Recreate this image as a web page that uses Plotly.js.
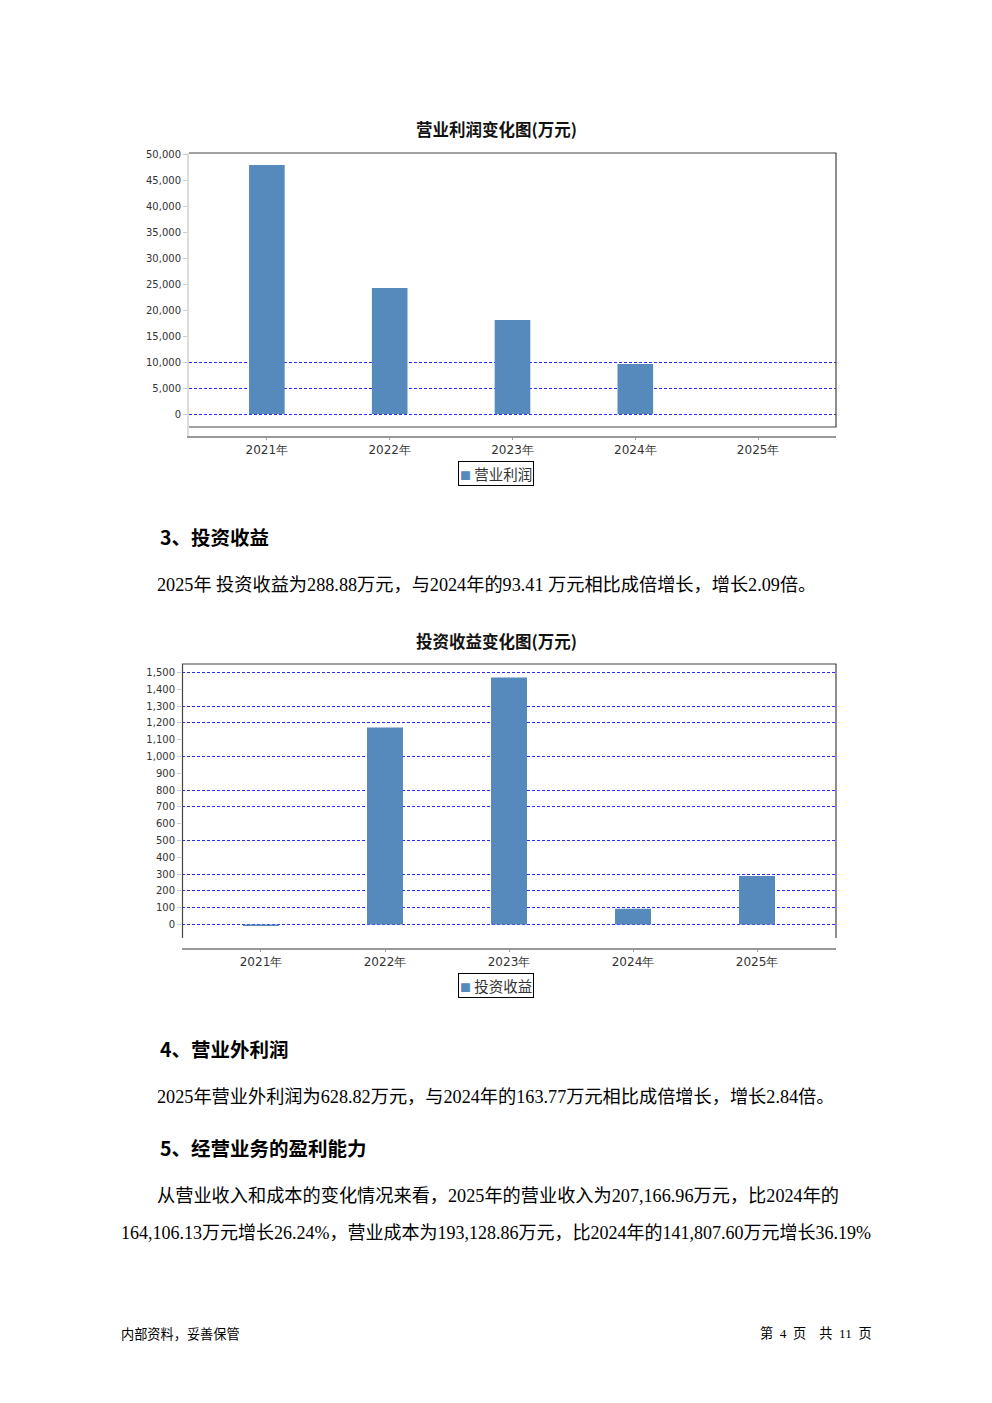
<!DOCTYPE html>
<html><head><meta charset="utf-8">
<script src="https://cdn.plot.ly/plotly-3.0.1.min.js"></script>
<style>html,body{margin:0;padding:0;background:#fff}#chart{width:992px;height:1403px}</style>
</head><body><div id="chart"></div>
<script>
// ---- data ----
const years = ['2021年', '2022年', '2023年', '2024年', '2025年'];
const operatingProfit = [47880, 24230, 18080, 9610, 0];
const investmentIncome = [-9, 1173, 1470, 93.41, 288.88];
const yTicks1 = [0, 5000, 10000, 15000, 20000, 25000, 30000, 35000, 40000, 45000, 50000];
const yGrid1 = [0, 5000, 10000];
const yTicks2 = [0, 100, 200, 300, 400, 500, 600, 700, 800, 900, 1000, 1100, 1200, 1300, 1400, 1500];
const yGrid2 = [0, 100, 200, 300, 500, 700, 800, 1000, 1200, 1300, 1500];
const title1 = '营业利润变化图(万元)';
const title2 = '投资收益变化图(万元)';
const legend1 = '营业利润';
const legend2 = '投资收益';
const texts = [
  {t: '3、投资收益', x: 158, y: 536, bold: true},
  {t: '2025年 投资收益为288.88万元，与2024年的93.41 万元相比成倍增长，增长2.09倍。', x: 155, y: 585},
  {t: '4、营业外利润', x: 158, y: 1048, bold: true},
  {t: '2025年营业外利润为628.82万元，与2024年的163.77万元相比成倍增长，增长2.84倍。', x: 155, y: 1097},
  {t: '5、经营业务的盈利能力', x: 158, y: 1147, bold: true},
  {t: '从营业收入和成本的变化情况来看，2025年的营业收入为207,166.96万元，比2024年的', x: 155, y: 1196},
  {t: '164,106.13万元增长26.24%，营业成本为193,128.86万元，比2024年的141,807.60万元增长36.19%', x: 119, y: 1233, size: 18.0}
];
const footerLeft = '内部资料，妥善保管';
const footerRight = '第  4  页    共  11  页';

// ---- layout helpers ----
const W = 992, H = 1403;
const px = v => v / W;
const py = v => 1 - v / H;
const barColor = '#5689bc';
const gridStyle = {showgrid: true, gridcolor: '#2a2aff', gridwidth: 1, griddash: '3px,2px'};
const serif = '"Liberation Serif", "Noto Sans CJK SC", serif';
const sans = '"Noto Sans CJK SC", "DejaVu Sans", sans-serif';

const traces = [
  {type: 'bar', x: years, y: operatingProfit, xaxis: 'x', yaxis: 'y', name: legend1,
   marker: {color: barColor, line: {width: 0}}, showlegend: false, hoverinfo: 'x+y'},
  {type: 'bar', x: years, y: investmentIncome, xaxis: 'x2', yaxis: 'y2', name: legend2,
   marker: {color: barColor, line: {width: 0}}, showlegend: false, hoverinfo: 'x+y'},
  // empty helper traces so the overlay grid axes are drawn
  {type: 'scatter', x: [], y: [], xaxis: 'x', yaxis: 'y3', showlegend: false, hoverinfo: 'skip'},
  {type: 'scatter', x: [], y: [], xaxis: 'x2', yaxis: 'y4', showlegend: false, hoverinfo: 'skip'}
];

const tickFontY = {family: '"DejaVu Sans", sans-serif', size: 10, color: '#333'};
const tickFontX = {family: '"DejaVu Sans", sans-serif', size: 12, color: '#333'};

const layout = {
  width: W, height: H,
  margin: {l: 0, r: 0, t: 0, b: 0},
  paper_bgcolor: '#fff', plot_bgcolor: 'rgba(0,0,0,0)',
  showlegend: false,
  bargap: 0.71,
  // chart 1
  xaxis: {domain: [px(189), px(836)], anchor: 'y', type: 'category', range: [-0.634, 4.634],
    showline: true, linecolor: '#999', linewidth: 1.5, ticks: 'outside', ticklen: 2, tickcolor: '#999',
    tickfont: tickFontX, showgrid: false, zeroline: false, fixedrange: true},
  yaxis: {domain: [py(436), py(153)], anchor: 'x', range: [-4226, 50192],
    tickmode: 'array', tickvals: yTicks1, tickformat: ',d', tickfont: tickFontY,
    ticks: 'outside', ticklen: 4, tickcolor: '#ccc', showline: true, linecolor: '#ddd', linewidth: 2,
    showgrid: false, zeroline: false, fixedrange: true},
  yaxis3: Object.assign({overlaying: 'y', anchor: 'x', range: [-4226, 50192], tickmode: 'array', tickvals: yGrid1,
    showticklabels: false, ticks: '', showline: false, zeroline: false, fixedrange: true}, gridStyle),
  // chart 2
  xaxis2: {domain: [px(182), px(836)], anchor: 'y2', type: 'category', range: [-0.637, 4.637],
    showline: true, linecolor: '#999', linewidth: 1.5, ticks: 'outside', ticklen: 2, tickcolor: '#999',
    tickfont: tickFontX, showgrid: false, zeroline: false, fixedrange: true},
  yaxis2: {domain: [py(948), py(664)], anchor: 'x2', range: [-139.9, 1550.6],
    tickmode: 'array', tickvals: yTicks2, tickformat: ',d', tickfont: tickFontY,
    ticks: 'outside', ticklen: 4, tickcolor: '#ccc', showline: false,
    showgrid: false, zeroline: false, fixedrange: true},
  yaxis4: Object.assign({overlaying: 'y2', anchor: 'x2', range: [-139.9, 1550.6], tickmode: 'array', tickvals: yGrid2,
    showticklabels: false, ticks: '', showline: false, zeroline: false, fixedrange: true}, gridStyle),
  shapes: [
    // chart 1 frame (top, right, bottom)
    {type: 'line', xref: 'paper', yref: 'paper', x0: px(189), x1: px(836.5), y0: py(153), y1: py(153), line: {color: '#444', width: 1.2}},
    {type: 'line', xref: 'paper', yref: 'paper', x0: px(836), x1: px(836), y0: py(153), y1: py(427), line: {color: '#444', width: 1.2}},
    {type: 'line', xref: 'paper', yref: 'paper', x0: px(189), x1: px(836.5), y0: py(427), y1: py(427), line: {color: '#444', width: 1.2}},
    // chart 2 frame (top, left, right)
    {type: 'line', xref: 'paper', yref: 'paper', x0: px(182), x1: px(836.5), y0: py(664), y1: py(664), line: {color: '#444', width: 1.2}},
    {type: 'line', xref: 'paper', yref: 'paper', x0: px(182.5), x1: px(182.5), y0: py(664), y1: py(938), line: {color: '#444', width: 1.2}},
    {type: 'line', xref: 'paper', yref: 'paper', x0: px(836), x1: px(836), y0: py(664), y1: py(938), line: {color: '#444', width: 1.2}}
  ],
  annotations: []
};

const ann = layout.annotations;
ann.push({text: '<b>' + title1 + '</b>', xref: 'paper', yref: 'paper', x: px(496), y: py(129), xanchor: 'center', yanchor: 'middle',
  showarrow: false, font: {family: sans, size: 16.5, color: '#111'}});
ann.push({text: '<b>' + title2 + '</b>', xref: 'paper', yref: 'paper', x: px(496), y: py(641), xanchor: 'center', yanchor: 'middle',
  showarrow: false, font: {family: sans, size: 16.5, color: '#111'}});
const legendText = t => '<span style="color:' + barColor + ';font-size:11px">■</span> ' + t;
ann.push({text: legendText(legend1), xref: 'paper', yref: 'paper', x: px(496), y: py(473.5), xanchor: 'center', yanchor: 'middle',
  showarrow: false, font: {family: sans, size: 14.5, color: '#333'}, bordercolor: '#000', borderwidth: 1, borderpad: 1, bgcolor: '#fff'});
ann.push({text: legendText(legend2), xref: 'paper', yref: 'paper', x: px(496), y: py(985), xanchor: 'center', yanchor: 'middle',
  showarrow: false, font: {family: sans, size: 14.5, color: '#333'}, bordercolor: '#000', borderwidth: 1, borderpad: 1, bgcolor: '#fff'});
texts.forEach(o => {
  ann.push({text: o.bold ? '<b>' + o.t + '</b>' : o.t, xref: 'paper', yref: 'paper', x: px(o.x), y: py(o.y),
    xanchor: 'left', yanchor: 'middle', showarrow: false,
    font: {family: o.bold ? sans : serif, size: o.size || (o.bold ? 19.5 : 18.2), color: '#000'}});
});
ann.push({text: footerLeft, xref: 'paper', yref: 'paper', x: px(119), y: py(1333), xanchor: 'left', yanchor: 'middle',
  showarrow: false, font: {family: sans, size: 13.2, color: '#000'}});
ann.push({text: footerRight, xref: 'paper', yref: 'paper', x: px(874), y: py(1333), xanchor: 'right', yanchor: 'middle',
  showarrow: false, font: {family: serif, size: 13.2, color: '#000'}});

Plotly.newPlot('chart', traces, layout, {displayModeBar: false, staticPlot: true});
</script>
</body></html>
